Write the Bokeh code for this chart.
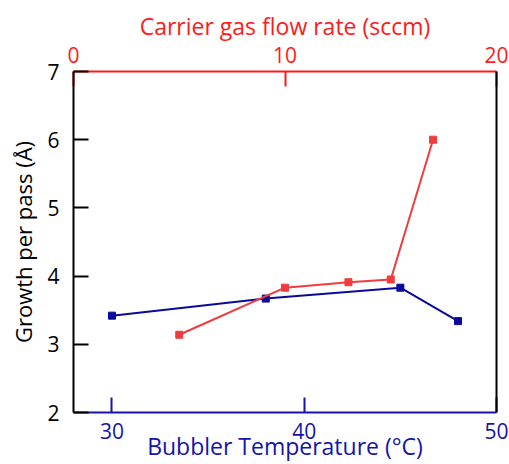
from bokeh.plotting import figure
from bokeh.models import LinearAxis, Range1d, FixedTicker
from bokeh.embed import file_html
from bokeh.resources import INLINE

# Blue series: bubbler temperature (°C) vs growth per pass (Å)
temp_c = [30, 38, 45, 48]
temp_growth = [3.42, 3.67, 3.83, 3.34]

# Red series: carrier gas flow rate (sccm) vs growth per pass (Å)
flow_sccm = [5, 10, 13, 15, 17]
flow_growth = [3.14, 3.83, 3.91, 3.95, 6.0]

y_ticks = [2, 3, 4, 5, 6, 7]
bottom_ticks = [30, 40, 50]
top_ticks = [0, 10, 20]

RED_AX = "#ff1a1a"
RED = "#f03c3c"
BLUE_AX = "#1414a8"
BLUE = "#0a0a9a"
FONT = "Open Sans"

p = figure(width=509, height=464, output_backend="svg", toolbar_location=None,
           x_range=Range1d(28, 50), y_range=Range1d(2, 7),
           x_axis_location=None, y_axis_location=None,
           min_border_left=73, min_border_right=13, min_border_top=71, min_border_bottom=52)
p.extra_x_ranges = {"flow": Range1d(0, 20)}
p.xgrid.visible = False
p.ygrid.visible = False
p.outline_line_color = None
p.background_fill_color = "white"
p.border_fill_color = "white"

def style(ax, color, label_color):
    ax.axis_line_color = color
    ax.axis_line_width = 2
    ax.major_tick_line_color = color
    ax.major_tick_line_width = 2
    ax.major_tick_in = 15
    ax.major_tick_out = 0
    ax.minor_tick_line_color = None
    ax.major_label_text_color = label_color
    ax.major_label_text_font = FONT
    ax.major_label_text_font_size = "21px"
    ax.axis_label_text_color = label_color
    ax.axis_label_text_font = FONT
    ax.axis_label_text_font_size = "23px"
    ax.axis_label_text_font_style = "normal"

left = LinearAxis(ticker=FixedTicker(ticks=y_ticks), axis_label="Growth per pass (Å)")
style(left, "black", "black")
left.axis_label_text_font_size = "22px"
left.major_label_standoff = 14
left.axis_label_standoff = 6
p.add_layout(left, "left")

bottom = LinearAxis(ticker=FixedTicker(ticks=bottom_ticks), axis_label="Bubbler Temperature (°C)")
style(bottom, BLUE_AX, BLUE_AX)
bottom.major_label_standoff = 10
bottom.axis_label_standoff = -12
p.add_layout(bottom, "below")

top = LinearAxis(x_range_name="flow", ticker=FixedTicker(ticks=top_ticks),
                 axis_label="Carrier gas flow rate (sccm)")
style(top, RED_AX, RED_AX)
top.major_label_standoff = 9
top.axis_label_standoff = 2
p.add_layout(top, "above")

right = LinearAxis(ticker=FixedTicker(ticks=[]))
right.axis_line_color = "black"
right.axis_line_width = 2
right.major_tick_in = 0
right.major_tick_out = 0
right.minor_tick_line_color = None
right.major_label_standoff = 0
p.add_layout(right, "right")

p.line(temp_c, temp_growth, line_color=BLUE, line_width=2)
p.scatter(temp_c, temp_growth, marker="square", size=7, fill_color=BLUE, line_color=BLUE)

p.line(flow_sccm, flow_growth, line_color=RED, line_width=2, x_range_name="flow")
p.scatter(flow_sccm, flow_growth, marker="square", size=7, fill_color=RED, line_color=RED,
          x_range_name="flow")

open("out.html", "w").write(file_html(p, INLINE))
